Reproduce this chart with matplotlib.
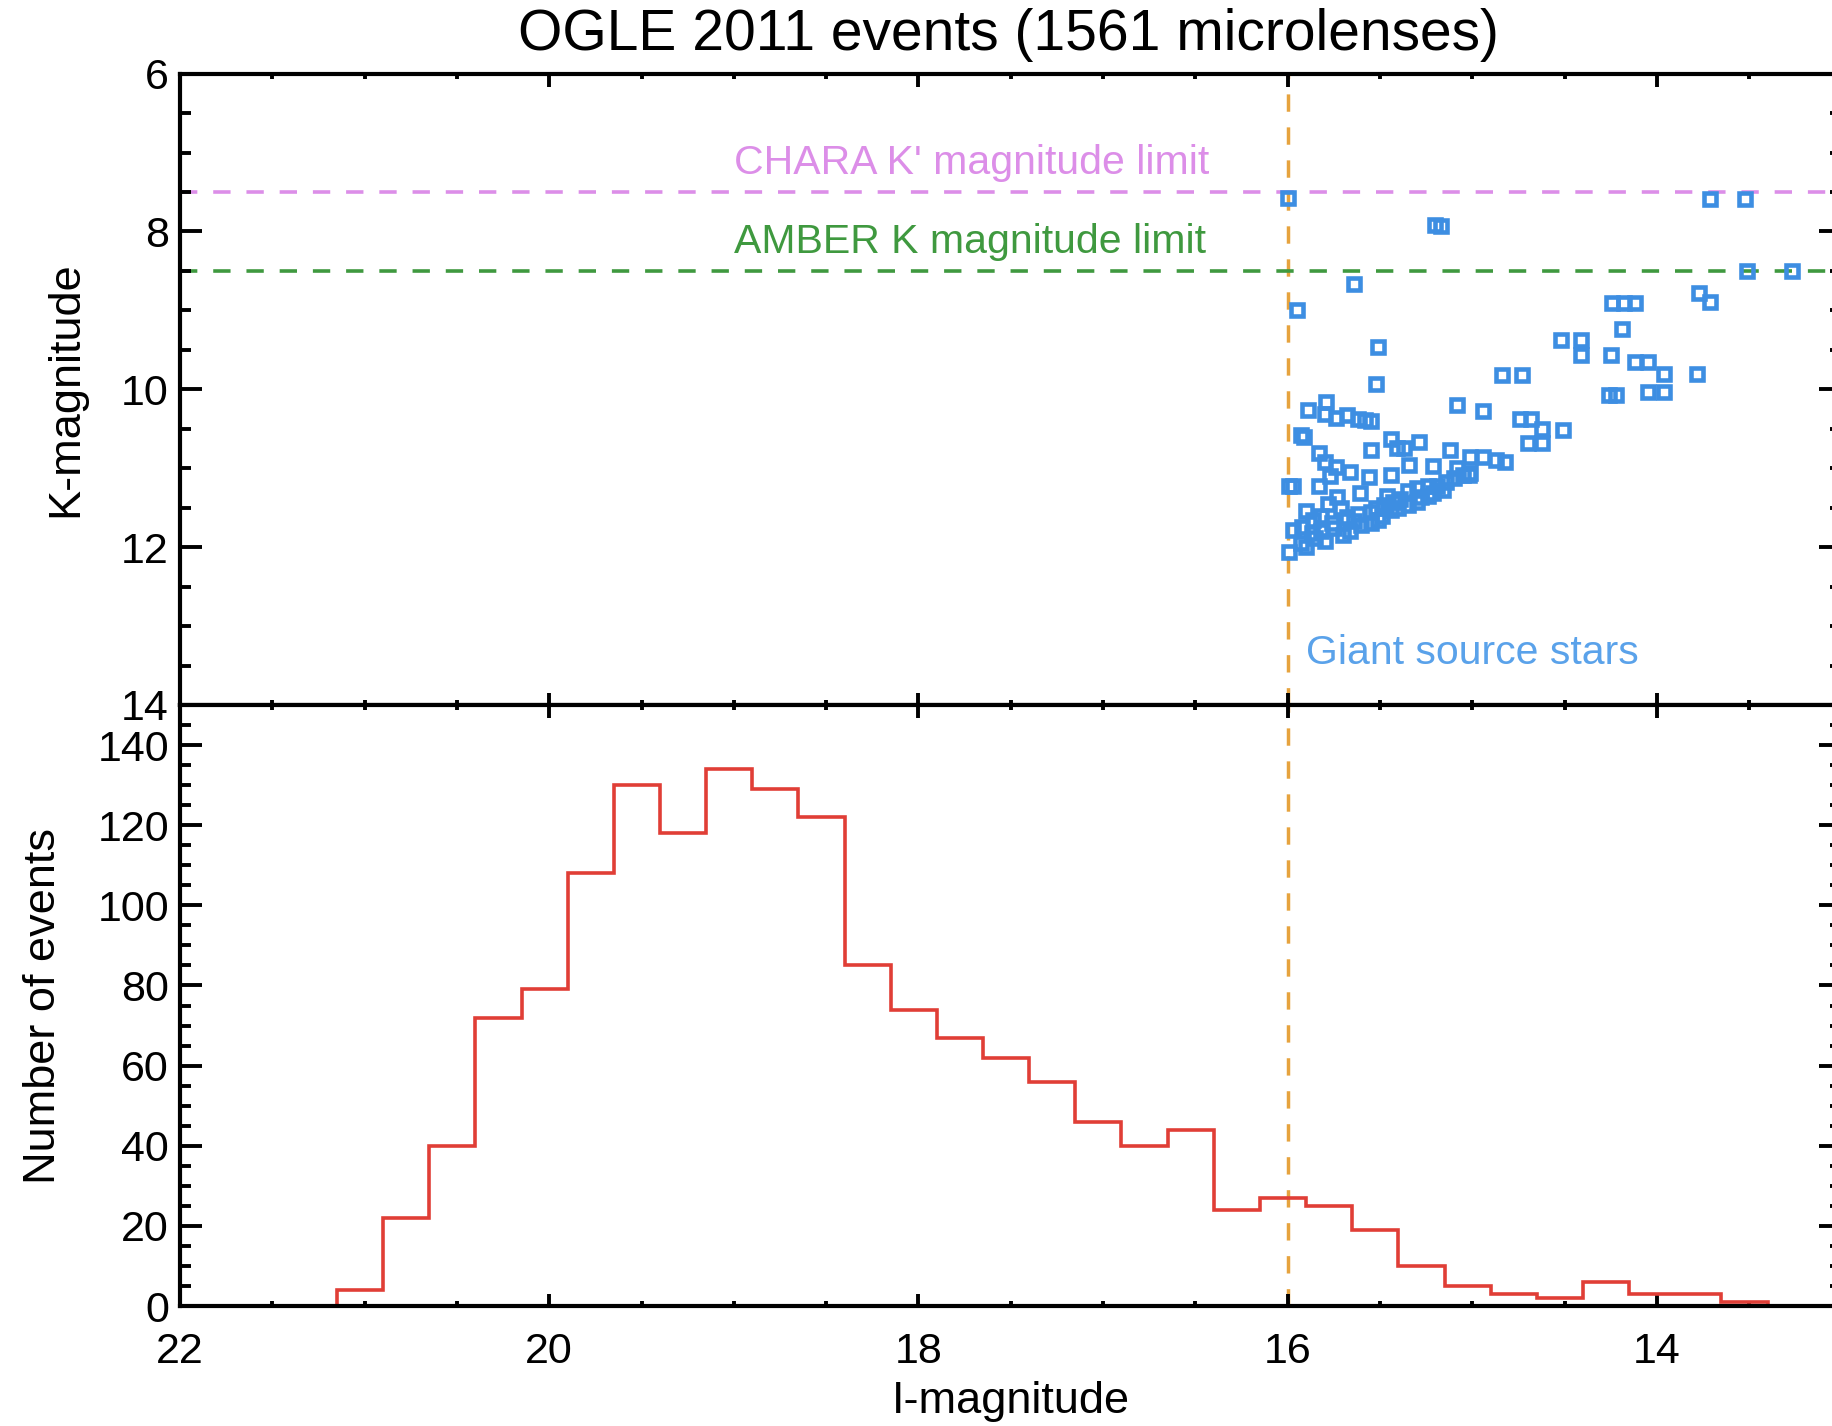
import matplotlib
matplotlib.use("Agg")
import matplotlib.pyplot as plt
from matplotlib.ticker import MultipleLocator
import numpy as np

plt.rcParams["font.family"] = ["Liberation Sans", "DejaVu Sans"]

# --- data ---
# histogram of I-magnitudes (0.25 mag bins, bright end last)
BIN_EDGES = [21.15 - 0.25 * k for k in range(32)]
COUNTS = [4, 22, 40, 72, 79, 108, 130, 118, 134, 129, 122, 85, 74, 67, 62, 56,
          46, 40, 44, 24, 27, 25, 19, 10, 5, 3, 2, 6, 3, 3, 1]

# giant source stars (I, K)
I_GIANT = [
    16.00, 15.20, 15.17, 13.71, 13.52, 13.51, 13.27, 15.64, 15.95,
    13.77, 13.71, 14.24, 14.18, 14.12, 14.19, 14.52, 14.41, 14.41, 14.25,
    14.12, 14.05, 13.96, 13.78, 14.26, 14.22, 14.05, 13.96, 14.84, 14.73,
    14.94, 14.74, 14.68, 14.62, 14.51, 14.70, 14.62,
    15.51, 15.52, 15.08,
    15.89, 15.79, 15.80, 15.74, 15.68, 15.62, 15.58, 15.55,
    15.93, 15.91,
    15.83, 15.80, 15.74, 15.77,
    15.55, 15.44, 15.41, 15.37, 15.29, 15.12,
    15.01, 14.94, 14.87, 14.82,
    15.66, 15.56, 15.44, 15.34, 15.21, 15.08, 15.02,
    15.99, 15.97, 15.83, 15.61,
    15.73, 15.71, 15.68,
    15.90, 15.86, 15.92, 15.97,
    15.82, 15.75, 15.66, 15.64,
    15.90, 15.99, 15.80, 15.85,
    15.55, 15.51, 15.48, 15.43, 15.39,
    15.35, 15.30, 15.24, 15.19, 15.14, 15.10, 15.05, 15.01,
    15.55, 15.49, 15.44,
    15.35, 15.30, 15.24, 15.21,
    15.78, 15.82, 15.76, 15.70, 15.60, 15.93, 15.87, 15.52, 15.40, 15.28,
    15.16, 15.46, 15.62,
]
K_GIANT = [
    7.58, 7.92, 7.93, 7.59, 7.59, 8.50, 8.50, 8.67, 8.99,
    8.78, 8.89, 8.91, 8.91, 8.91, 9.23, 9.38, 9.38, 9.57, 9.57,
    9.65, 9.65, 9.81, 9.81, 10.07, 10.07, 10.03, 10.03, 9.82, 9.82,
    10.28, 10.38, 10.38, 10.50, 10.51, 10.68, 10.68,
    9.46, 9.93, 10.20,
    10.26, 10.16, 10.31, 10.36, 10.33, 10.37, 10.39, 10.40,
    10.58, 10.60,
    10.81, 10.92, 10.98, 11.10,
    10.77, 10.63, 10.75, 10.74, 10.67, 10.77,
    10.86, 10.86, 10.90, 10.92,
    11.05, 11.11, 11.08, 10.96, 10.97, 11.00, 11.08,
    11.22, 11.22, 11.23, 11.31,
    11.37, 11.50, 11.62,
    11.54, 11.66, 11.74, 11.78,
    11.80, 11.76, 11.80, 11.67,
    12.00, 12.06, 11.92, 11.88,
    11.56, 11.65, 11.47, 11.43, 11.39,
    11.29, 11.25, 11.23, 11.23, 11.18, 11.12, 11.08, 11.06,
    11.69, 11.60, 11.53,
    11.47, 11.43, 11.35, 11.31,
    11.45, 11.60, 11.70, 11.85, 11.72, 11.95, 11.82, 11.50, 11.50, 11.37,
    11.27, 11.35, 11.58,
]

CHARA_LIMIT = 7.5
AMBER_LIMIT = 8.5
GIANT_CUT = 16.0

BLUE = "#3d8ee2"
PINK = "#dc8ee8"
GREEN = "#3f993f"
ORANGE = "#e6a33e"
RED = "#e03e36"

W, H = 1832, 1426
fig = plt.figure(figsize=(W / 100, H / 100), dpi=100)
x0, x1 = 180, 1841.4
ax_top = fig.add_axes([x0 / W, 1 - 705 / H, (x1 - x0) / W, (705 - 73.6) / H])
ax_bot = fig.add_axes([x0 / W, 1 - 1306 / H, (x1 - x0) / W, (1306 - 705) / H],
                      sharex=ax_top)

for ax in (ax_top, ax_bot):
    for sp in ax.spines.values():
        sp.set_linewidth(3)
    ax.tick_params(which="both", direction="in", top=True, right=True,
                   width=2.8, labelsize=31, colors="black")
    ax.tick_params(axis="y", which="major", length=16, pad=8)
    ax.tick_params(axis="y", which="minor", length=8)
    ax.tick_params(axis="x", which="major", length=9, pad=19)
    ax.tick_params(axis="x", which="minor", length=3.5)
    ax.xaxis.set_major_locator(MultipleLocator(2))
    ax.xaxis.set_minor_locator(MultipleLocator(0.5))
    ax.axvline(GIANT_CUT, color=ORANGE, lw=2.5, dashes=(5.0, 4.5), zorder=1)

# --- top: K vs I for giants ---
ax_top.axhline(CHARA_LIMIT, color=PINK, lw=2.6, dashes=(4.8, 4.4), zorder=1)
ax_top.axhline(AMBER_LIMIT, color=GREEN, lw=2.6, dashes=(4.8, 4.4), zorder=1)
ax_top.plot(I_GIANT, K_GIANT, ls="none", marker="s", ms=9, mew=3.3,
            mfc="none", mec=BLUE, zorder=3)
ax_top.text(19.0, 7.13, "CHARA K' magnitude limit", color=PINK, fontsize=29.5,
            ha="left", va="center")
ax_top.text(19.0, 8.13, "AMBER K magnitude limit", color=GREEN, fontsize=29.5,
            ha="left", va="center")
ax_top.text(15.90, 13.34, "Giant source stars", color="#5aa2ea", fontsize=29.5,
            ha="left", va="center")
ax_top.set_xlim(22, 13)
ax_top.set_ylim(14, 6)
ax_top.yaxis.set_major_locator(MultipleLocator(2))
ax_top.yaxis.set_minor_locator(MultipleLocator(0.5))
ax_top.tick_params(axis="x", labelbottom=False)
ax_top.set_ylabel("K-magnitude", fontsize=32.5)
ax_top.yaxis.set_label_coords((86 - x0) / (x1 - x0), 0.5)

# --- bottom: histogram of all events ---
ax_bot.stairs(COUNTS[::-1], BIN_EDGES[::-1], color=RED, lw=2.6, baseline=0,
              zorder=2)
ax_bot.set_ylim(0, 150)
ax_bot.yaxis.set_minor_locator(MultipleLocator(5))
ax_bot.set_yticks(np.arange(0, 141, 20))
ax_bot.set_ylabel("Number of events", fontsize=32.5)
ax_bot.yaxis.set_label_coords((64 - x0) / (x1 - x0), 0.5)
ax_bot.set_xlabel("I-magnitude", fontsize=32.5, labelpad=6)

fig.text(1008 / W, 1 - 35 / H, "OGLE 2011 events (1561 microlenses)",
         fontsize=41, ha="center", va="center")

fig.savefig("out.png", dpi=100)
